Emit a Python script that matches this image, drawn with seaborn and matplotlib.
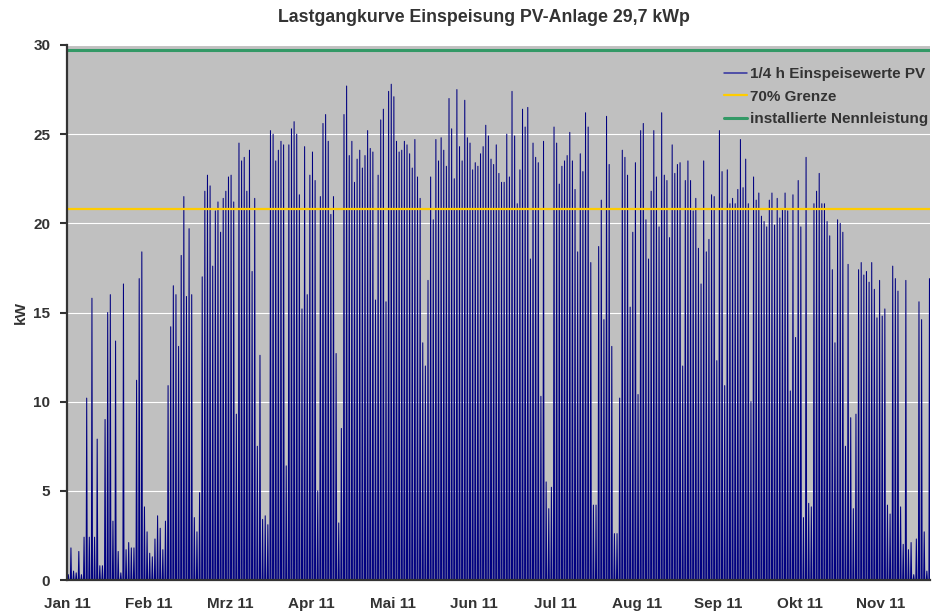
import pandas as pd
import matplotlib.pyplot as plt
import seaborn as sns

# ============================================================
# DATA (daily peak of the 1/4 h feed-in values, kW)
# ============================================================

JAN = [0.3, 1.8, 0.5, 0.4, 1.6, 0.3, 2.4, 10.2, 2.4, 15.8, 2.4, 7.9, 0.8, 0.8, 9.0, 15.0,
       16.0, 3.3, 13.4, 1.6, 0.4, 16.6, 1.7, 2.1, 1.8, 1.8, 11.2, 16.9, 18.4, 4.1, 2.7]
FEB = [1.5, 1.3, 2.3, 3.6, 2.9, 1.7, 3.3, 10.9, 14.2, 16.5, 16.0, 13.1, 18.2, 21.5,
       15.9, 19.7, 16.0, 3.5, 2.7, 4.9, 17.0, 21.8, 22.7, 22.1, 17.6, 20.7, 21.2, 19.5]
MAR = [21.4, 21.8, 22.6, 22.7, 21.2, 9.3, 24.5, 23.5, 23.7, 21.8, 24.1, 17.3, 21.4, 7.5,
       12.6, 3.4, 3.6, 3.1, 25.2, 25.0, 23.5, 24.1, 24.6, 24.4, 6.4, 24.4, 25.3, 25.7,
       25.0, 21.6, 15.2]
APR = [24.3, 16.0, 22.7, 24.0, 22.4, 5.0, 21.5, 25.6, 26.1, 24.6, 20.5, 21.5, 12.7, 3.2,
       8.5, 26.1, 27.7, 23.8, 24.6, 22.3, 23.6, 24.1, 23.1, 23.8, 25.2, 24.2, 24.0, 15.7,
       22.7, 25.8]
MAI = [26.4, 15.6, 27.4, 27.8, 27.1, 24.6, 24.0, 24.1, 24.6, 24.4, 23.9, 23.1, 24.7,
       22.6, 21.4, 13.3, 12.0, 16.8, 22.6, 20.2, 24.7, 23.5, 24.8, 24.1, 23.2, 27.0, 25.3,
       22.5, 27.5, 24.3, 23.5]
JUN = [26.9, 24.8, 24.5, 23.0, 23.4, 23.2, 23.9, 24.3, 25.5, 24.9, 23.6, 23.3, 24.4,
       22.8, 22.3, 22.3, 25.0, 22.6, 27.4, 24.9, 21.1, 23.0, 26.4, 25.4, 26.5, 18.0, 24.5,
       23.7, 23.4, 10.3]
JUL = [24.6, 5.5, 4.0, 5.2, 25.4, 24.5, 22.2, 23.2, 23.5, 23.8, 25.1, 23.5, 21.9, 18.4,
       23.9, 22.9, 26.2, 25.4, 17.8, 4.2, 4.2, 18.7, 21.3, 14.6, 26.0, 23.3, 13.1, 2.6,
       2.6, 10.2, 24.1]
AUG = [23.7, 22.7, 15.3, 19.5, 23.4, 10.4, 25.2, 25.6, 20.2, 18.0, 21.8, 25.2, 22.6,
       19.8, 26.2, 22.7, 22.4, 19.2, 24.4, 22.8, 23.3, 23.4, 12.0, 22.4, 23.5, 22.4, 20.7,
       21.4, 18.6, 16.6, 23.5]
SEP = [18.4, 19.1, 21.6, 21.5, 12.3, 25.2, 22.9, 10.9, 23.0, 21.1, 21.4, 21.1, 21.9,
       24.7, 22.0, 23.6, 21.1, 10.0, 22.6, 21.3, 21.7, 20.4, 20.1, 19.8, 21.3, 21.7, 19.9,
       21.4, 20.3, 20.8]
OKT = [21.7, 20.7, 10.6, 21.6, 13.6, 22.4, 19.8, 3.5, 23.7, 4.3, 4.1, 21.1, 21.8, 22.8,
       21.1, 21.1, 20.1, 19.3, 17.4, 13.3, 20.2, 20.0, 19.5, 7.5, 17.7, 9.1, 4.0, 9.3,
       17.4, 17.8, 17.1]
NOV = [17.3, 16.7, 17.8, 16.3, 14.7, 16.8, 14.8, 15.2, 4.2, 3.7, 17.6, 16.9, 16.2, 4.1,
       2.0, 16.8, 1.7, 2.1, 0.3, 2.3, 15.6, 14.6, 2.7, 0.5, 16.9]

NENNLEISTUNG = 29.7                 # kWp
GRENZE_70 = 0.7 * NENNLEISTUNG      # 70% Grenze
TICK_LABELS = ["Jan 11", "Feb 11", "Mrz 11", "Apr 11", "Mai 11", "Jun 11",
               "Jul 11", "Aug 11", "Sep 11", "Okt 11", "Nov 11"]

# ============================================================
# BUILD SERIES (night zero -> midday peak -> night zero)
# ============================================================

peaks = JAN + FEB + MAR + APR + MAI + JUN + JUL + AUG + SEP + OKT + NOV
days = pd.date_range("2011-01-01", periods=len(peaks), freq="D")
rows = []
for day, p in zip(days, peaks):
    rows.append({"Zeit": day + pd.Timedelta(hours=7), "kW": 0.0})
    rows.append({"Zeit": day + pd.Timedelta(hours=12), "kW": p})
    rows.append({"Zeit": day + pd.Timedelta(hours=17), "kW": 0.0})
df = pd.DataFrame(rows)

# ============================================================
# PLOT
# ============================================================

TEXT = "#333333"
sns.set_style("darkgrid", rc={"axes.facecolor": "#C0C0C0", "grid.color": "white",
                              "grid.linewidth": 1.1})
plt.rcParams["font.family"] = ["Liberation Sans", "DejaVu Sans"]
plt.rcParams["font.weight"] = "bold"

fig = plt.figure(figsize=(9.32, 6.14), dpi=100)
ax = fig.add_axes([67 / 932, 34 / 614, 863 / 932, 535 / 614])

sns.lineplot(data=df, x="Zeit", y="kW", color="#000080", linewidth=0.75,
             estimator=None, ax=ax, label="1/4 h Einspeisewerte PV")
ax.axhline(GRENZE_70, color="#FFCC00", linewidth=1.6, label="70% Grenze")
ax.axhline(NENNLEISTUNG, color="#339966", linewidth=2.2, label="installierte Nennleistung")

start = pd.Timestamp("2011-01-01")
ticks = pd.date_range(start, periods=len(TICK_LABELS), freq="31D")
ax.set_xlim(start, start + pd.Timedelta(days=328.7))
ax.set_xticks(ticks)
ax.set_xticklabels(TICK_LABELS)
ax.set_ylim(0, 30)
ax.set_yticks(range(0, 31, 5))
ax.grid(axis="x", visible=False)

ax.tick_params(axis="x", length=0, pad=12.5, labelsize=11, labelcolor=TEXT)
ax.tick_params(axis="y", length=5, width=1.5, color=TEXT, pad=7, labelsize=11,
               labelcolor=TEXT, left=True)
ax.set_xlabel("")
ax.set_ylabel("kW", fontsize=11, fontweight="bold", color=TEXT, labelpad=4)

for side in ["top", "right"]:
    ax.spines[side].set_visible(False)
for side in ["left", "bottom"]:
    ax.spines[side].set_visible(True)
    ax.spines[side].set_color(TEXT)
    ax.spines[side].set_linewidth(1.6)

leg = ax.legend(loc="upper right", bbox_to_anchor=(1.005, 0.97), frameon=False,
                prop={"size": 11, "weight": "bold"}, handlelength=1.5,
                handletextpad=0.2, labelspacing=0.55, borderaxespad=0)
leg.get_lines()[0].set_linewidth(1.1)
leg.get_lines()[0].set_color("#3030A0")
for t in leg.get_texts():
    t.set_color(TEXT)

fig.text(484 / 932, 1 - 18 / 614, "Lastgangkurve Einspeisung PV-Anlage 29,7 kWp",
         ha="center", va="center", fontsize=12.8, fontweight="bold", color=TEXT)

plt.savefig("out.png", dpi=100)
plt.close()
